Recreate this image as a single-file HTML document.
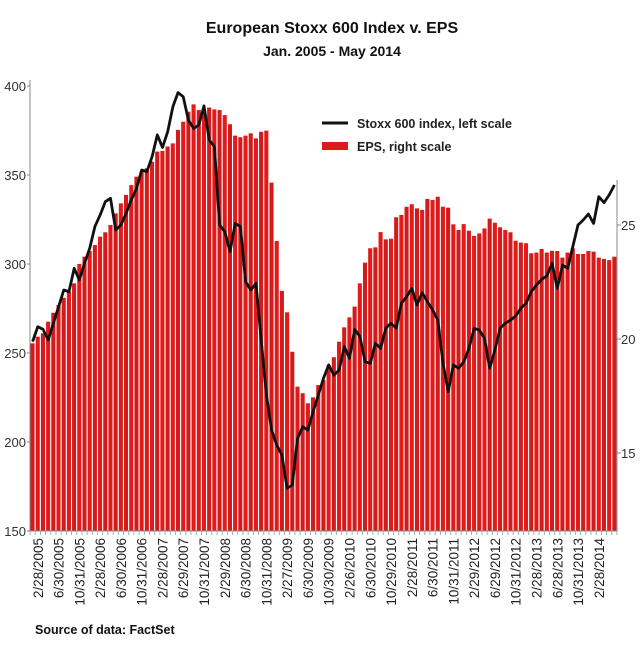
<!DOCTYPE html>
<html><head><meta charset="utf-8"><style>
body{margin:0;background:#fff;}
svg text{font-family:"Liberation Sans",sans-serif;}
</style></head><body>
<svg id="chart" width="640" height="649" viewBox="0 0 640 649" xmlns="http://www.w3.org/2000/svg">
<text x="332" y="33" text-anchor="middle" font-size="16" font-weight="bold" fill="#111">European Stoxx 600 Index v. EPS</text>
<text x="332" y="56" text-anchor="middle" font-size="14" font-weight="bold" fill="#111">Jan. 2005 - May 2014</text>
<g id="bars"></g>
<g id="axes"></g>
<path id="line" fill="none" stroke="#111" stroke-width="2.8" stroke-linejoin="round"/>
<g>
<line x1="322" y1="123" x2="348" y2="123" stroke="#111" stroke-width="3"/>
<text x="357" y="128" font-size="12.5" font-weight="bold" fill="#222">Stoxx 600 index, left scale</text>
<rect x="322" y="142" width="26" height="8" fill="#e01818"/>
<text x="357" y="151" font-size="12.5" font-weight="bold" fill="#222">EPS, right scale</text>
</g>
<text x="35" y="634" font-size="12.5" font-weight="bold" fill="#111">Source of data: FactSet</text>
</svg>
<script>
const eps = [19.81,20.10,20.25,20.76,21.15,21.49,21.81,22.08,22.44,23.29,23.61,23.86,24.12,24.49,24.68,25.0,25.51,25.95,26.32,26.75,27.12,27.34,27.49,27.78,28.22,28.25,28.44,28.58,29.17,29.53,29.97,30.29,30.04,30.04,30.15,30.07,30.04,29.82,29.42,28.92,28.85,28.92,29.02,28.80,29.09,29.14,26.86,24.30,22.11,21.17,19.44,17.91,17.62,17.18,17.44,
17.98,18.20,18.86,19.20,19.88,20.51,20.95,21.42,22.44,23.35,23.98,24.02,24.69,24.37,24.40,25.34,25.44,25.80,25.91,25.73,25.66,26.14,26.10,26.24,25.80,25.76,25.03,24.78,25.04,24.75,24.52,24.63,24.85,25.28,25.10,24.90,24.78,24.68,24.31,24.23,24.20,23.76,23.79,23.95,23.79,23.87,23.86,23.57,23.79,23.98,23.73,23.73,23.86,23.83,23.57,23.51,23.46,23.61];
const stoxx = [256.4,264.8,263.3,257.3,266.7,276,285.4,284.5,297.6,291,300.4,308.8,321,327.5,335,336.9,319.1,321.9,328.5,336,342.5,352.8,351.9,360.3,372.5,365.5,374.3,388.4,396.3,394,380.9,376.2,378.1,388.8,369.7,365.9,321.9,318.2,306.9,322.8,321,290.1,285.4,289.1,257.3,226.4,206.7,198.3,192.7,174,175.8,202,208.6,206.7,217,
226.4,235.8,243.3,237.6,240.4,253.6,247,263.3,259.2,245.1,244.2,255.4,252.6,263.9,266.7,263.9,277.9,281.6,286.3,277,283.9,278.8,274.2,268.5,244.2,228.3,243.3,241.4,245.1,252.6,263.9,262.9,258.2,241.4,251.7,263.9,266.7,268.5,270.8,275.1,277.9,284.5,288.2,291.4,293.3,300.4,286.3,299.4,297.6,309.7,321.9,324.7,328.1,322.8,337.8,334.5,338.8,344.4];
const leftTicks = [150,200,250,300,350,400];
const rightTicks = [15,20,25];
const xLabels = ["2/28/2005","6/30/2005","10/31/2005","2/28/2006","6/30/2006","10/31/2006","2/28/2007","6/29/2007","10/31/2007","2/29/2008","6/30/2008","10/31/2008","2/27/2009","6/30/2009","10/30/2009","2/26/2010","6/30/2010","10/29/2010","2/28/2011","6/30/2011","10/31/2011","2/29/2012","6/29/2012","10/31/2012","2/28/2013","6/28/2013","10/31/2013","2/28/2014"];
const X0=30, X1=617, Y0=531, n=eps.length, bw=(X1-X0)/n;
const yL = v => Y0 - (v-150)*(445/250);
const yR = v => 453 - (v-15)*22.8;
const xc = i => X0 + bw*(i+0.5);
const NS="http://www.w3.org/2000/svg";
function mk(t,a,p){const e=document.createElementNS(NS,t);for(const k in a)e.setAttribute(k,a[k]);p.appendChild(e);return e;}
const bars=document.getElementById('bars');
eps.forEach((v,i)=>{
  const y=yR(v);
  const r=mk('rect',{x:X0+bw*i+0.5,y:y,width:bw-1.1,height:Y0-y,fill:(i%2?'#e41a1a':'#d01c1c')},bars);
  
  
});
const ax=document.getElementById('axes');
mk('line',{x1:X0,y1:80,x2:X0,y2:Y0,stroke:'#888','stroke-width':1},ax);
mk('line',{x1:X1,y1:180,x2:X1,y2:Y0,stroke:'#888','stroke-width':1},ax);
mk('line',{x1:X0,y1:Y0,x2:X1,y2:Y0,stroke:'#888','stroke-width':1},ax);
leftTicks.forEach(v=>{
  mk('line',{x1:X0-3,y1:yL(v),x2:X0,y2:yL(v),stroke:'#888'},ax);
  const t=mk('text',{x:X0-4,y:yL(v)+5,'text-anchor':'end','font-size':13,fill:'#333'},ax);
  t.textContent=v;
  
  
});
rightTicks.forEach(v=>{
  mk('line',{x1:X1,y1:yR(v),x2:X1+4,y2:yR(v),stroke:'#888'},ax);
  const t=mk('text',{x:X1+4,y:yR(v)+5,'font-size':13,fill:'#333'},ax);
  t.textContent=v;
  
  
});
for(let i=0;i<=n;i++){mk('line',{x1:X0+bw*i,y1:Y0,x2:X0+bw*i,y2:Y0+4,stroke:'#999','stroke-width':0.8},ax);}
xLabels.forEach((s,k)=>{
  const x=xc(1+4*k)+5;
  const t=mk('text',{x:x,y:538,'text-anchor':'end','font-size':13.5,fill:'#222',transform:`rotate(-90 ${x} 538)`},ax);
  t.textContent=s;
  
  
});
document.getElementById('line').setAttribute('d',stoxx.map((v,i)=>(i?'L':'M')+xc(i).toFixed(1)+' '+yL(v).toFixed(1)).join(' '));
</script>
</body></html>
